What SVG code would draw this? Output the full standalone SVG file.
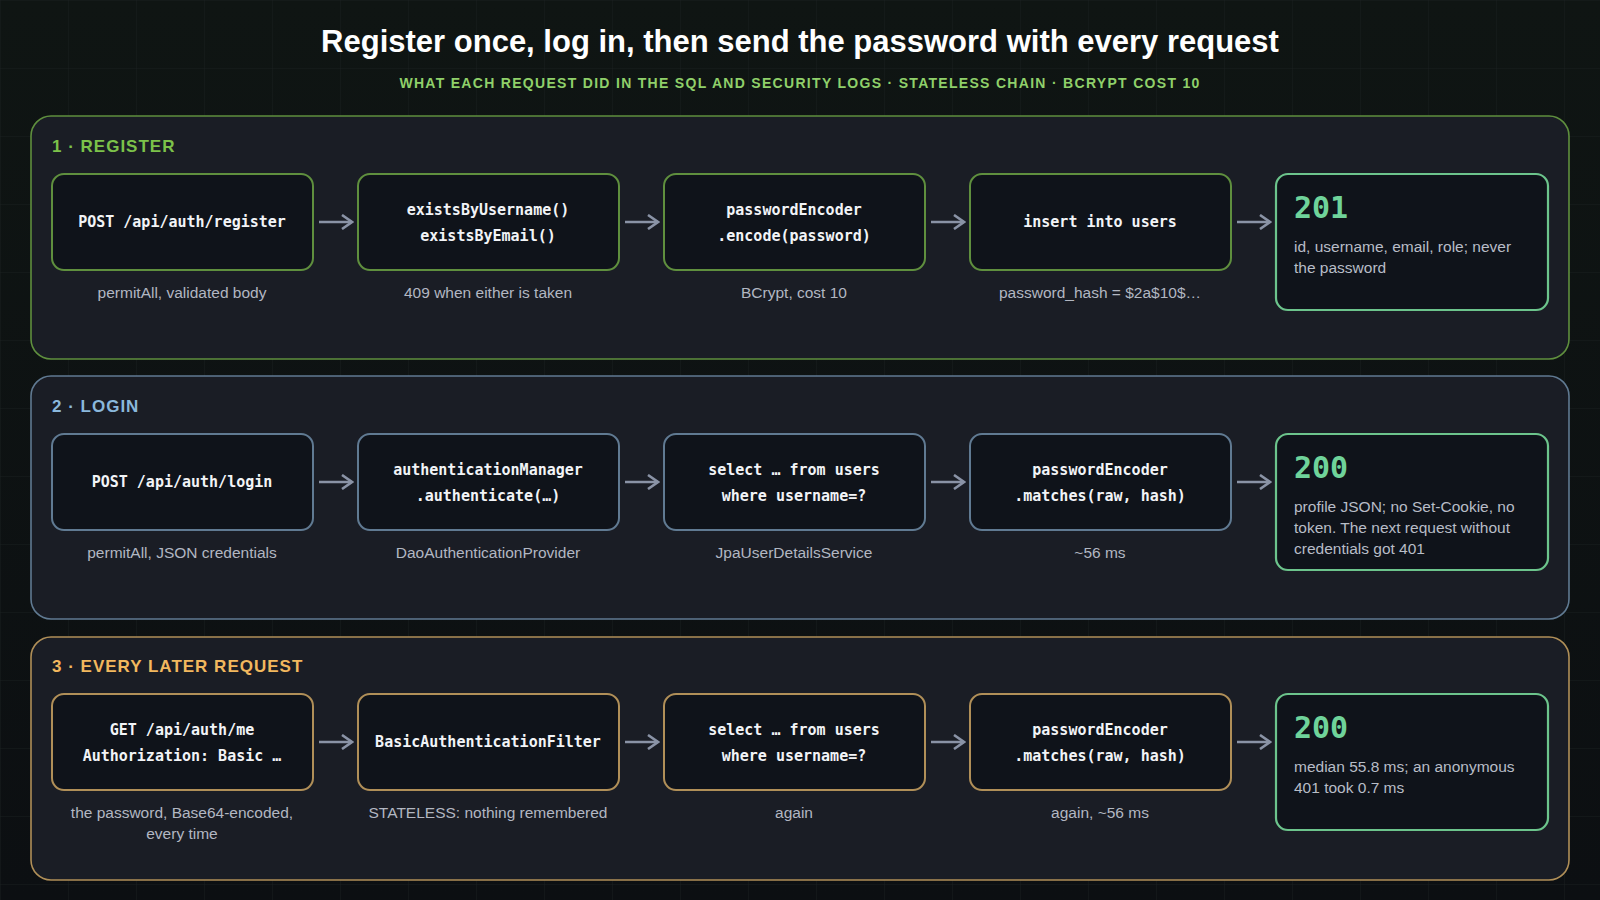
<svg xmlns="http://www.w3.org/2000/svg" width="1600" height="900" viewBox="0 0 1600 900">
<defs>
<pattern id="grid" width="68" height="68" patternUnits="userSpaceOnUse"><path d="M68 0H0V68" fill="none" stroke="#1a2020" stroke-width="1"/></pattern>
<marker id="ah" viewBox="0 0 16 16" refX="14" refY="8" markerWidth="16" markerHeight="16" markerUnits="userSpaceOnUse" orient="auto"><path d="M4 1L14 8L4 15" fill="none" stroke="#8a93a6" stroke-width="2.6"/></marker>
<linearGradient id="bg" x1="0" y1="0" x2="0" y2="1"><stop offset="0" stop-color="#0f1513"/><stop offset="1" stop-color="#0c0f12"/></linearGradient>
</defs>
<style>
.t{font-family:"Liberation Sans",Arial,sans-serif;fill:#fff;font-weight:bold;font-size:31px}
.st{font-family:"Liberation Sans",Arial,sans-serif;fill:#8fd06a;font-weight:bold;font-size:14px;letter-spacing:1.3px}
.panel{fill:#1a1d25;stroke-width:1.6}
.sl{font-family:"Liberation Sans",Arial,sans-serif;font-weight:bold;font-size:17px;letter-spacing:1px}
.node{fill:#0f131a;stroke-width:2}
.code{font-family:"DejaVu Sans Mono",monospace;font-weight:bold;font-size:15px;fill:#f2f4f7;text-anchor:middle}
.cap{font-family:"Liberation Sans",Arial,sans-serif;font-size:15.5px;fill:#b2b7c2;text-anchor:middle}
.res{fill:#0f131a;stroke:#6cc48c;stroke-width:2.2}
.num{font-family:"DejaVu Sans Mono",monospace;font-weight:bold;font-size:30px;fill:#6fd39a}
.rt{font-family:"Liberation Sans",Arial,sans-serif;font-size:15.5px;fill:#b8bdc7}
.g{stroke:#5f8f3e}.b{stroke:#607a92}.o{stroke:#b08f58}
.conn line{stroke:#8a93a6;stroke-width:2.6}
</style>
<rect width="1600" height="900" fill="url(#bg)"/>
<rect width="1600" height="900" fill="url(#grid)"/>
<text class="t" x="800" y="52" text-anchor="middle">Register once, log in, then send the password with every request</text>
<text class="st" x="800" y="88" text-anchor="middle">WHAT EACH REQUEST DID IN THE SQL AND SECURITY LOGS · STATELESS CHAIN · BCRYPT COST 10</text>

<g id="panel1"><rect class="panel g" x="31" y="116" width="1538" height="243" rx="20"/><text class="sl" x="52" y="152" fill="#7cc24a">1 · REGISTER</text></g>
<g id="panel2"><rect class="panel b" x="31" y="376" width="1538" height="243" rx="20"/><text class="sl" x="52" y="412" fill="#8ab8dc">2 · LOGIN</text></g>
<g id="panel3"><rect class="panel o" x="31" y="637" width="1538" height="243" rx="20"/><text class="sl" x="52" y="672" fill="#f2b85e">3 · EVERY LATER REQUEST</text></g>

<g id="r1n1"><rect class="node g" x="52" y="174" width="261" height="96" rx="12"/><text class="code" x="182" y="227">POST /api/auth/register</text><text class="cap" x="182" y="298">permitAll, validated body</text></g>
<g id="r1n2"><rect class="node g" x="358" y="174" width="261" height="96" rx="12"/><text class="code" x="488" y="215">existsByUsername()</text><text class="code" x="488" y="241">existsByEmail()</text><text class="cap" x="488" y="298">409 when either is taken</text></g>
<g id="r1n3"><rect class="node g" x="664" y="174" width="261" height="96" rx="12"/><text class="code" x="794" y="215">passwordEncoder</text><text class="code" x="794" y="241">.encode(password)</text><text class="cap" x="794" y="298">BCrypt, cost 10</text></g>
<g id="r1n4"><rect class="node g" x="970" y="174" width="261" height="96" rx="12"/><text class="code" x="1100" y="227">insert into users</text><text class="cap" x="1100" y="298">password_hash = $2a$10$…</text></g>
<g id="r1res"><rect class="res" x="1276" y="174" width="272" height="136" rx="12"/><text class="num" x="1294" y="218">201</text><text class="rt" x="1294" y="252">id, username, email, role; never</text><text class="rt" x="1294" y="273">the password</text></g>

<g id="r2n1"><rect class="node b" x="52" y="434" width="261" height="96" rx="12"/><text class="code" x="182" y="487">POST /api/auth/login</text><text class="cap" x="182" y="558">permitAll, JSON credentials</text></g>
<g id="r2n2"><rect class="node b" x="358" y="434" width="261" height="96" rx="12"/><text class="code" x="488" y="475">authenticationManager</text><text class="code" x="488" y="501">.authenticate(…)</text><text class="cap" x="488" y="558">DaoAuthenticationProvider</text></g>
<g id="r2n3"><rect class="node b" x="664" y="434" width="261" height="96" rx="12"/><text class="code" x="794" y="475">select … from users</text><text class="code" x="794" y="501">where username=?</text><text class="cap" x="794" y="558">JpaUserDetailsService</text></g>
<g id="r2n4"><rect class="node b" x="970" y="434" width="261" height="96" rx="12"/><text class="code" x="1100" y="475">passwordEncoder</text><text class="code" x="1100" y="501">.matches(raw, hash)</text><text class="cap" x="1100" y="558">~56 ms</text></g>
<g id="r2res"><rect class="res" x="1276" y="434" width="272" height="136" rx="12"/><text class="num" x="1294" y="478">200</text><text class="rt" x="1294" y="512">profile JSON; no Set-Cookie, no</text><text class="rt" x="1294" y="533">token. The next request without</text><text class="rt" x="1294" y="554">credentials got 401</text></g>

<g id="r3n1"><rect class="node o" x="52" y="694" width="261" height="96" rx="12"/><text class="code" x="182" y="735">GET /api/auth/me</text><text class="code" x="182" y="761">Authorization: Basic …</text><text class="cap" x="182" y="818">the password, Base64-encoded,</text><text class="cap" x="182" y="839">every time</text></g>
<g id="r3n2"><rect class="node o" x="358" y="694" width="261" height="96" rx="12"/><text class="code" x="488" y="747">BasicAuthenticationFilter</text><text class="cap" x="488" y="818">STATELESS: nothing remembered</text></g>
<g id="r3n3"><rect class="node o" x="664" y="694" width="261" height="96" rx="12"/><text class="code" x="794" y="735">select … from users</text><text class="code" x="794" y="761">where username=?</text><text class="cap" x="794" y="818">again</text></g>
<g id="r3n4"><rect class="node o" x="970" y="694" width="261" height="96" rx="12"/><text class="code" x="1100" y="735">passwordEncoder</text><text class="code" x="1100" y="761">.matches(raw, hash)</text><text class="cap" x="1100" y="818">again, ~56 ms</text></g>
<g id="r3res"><rect class="res" x="1276" y="694" width="272" height="136" rx="12"/><text class="num" x="1294" y="738">200</text><text class="rt" x="1294" y="772">median 55.8 ms; an anonymous</text><text class="rt" x="1294" y="793">401 took 0.7 ms</text></g>

<g id="connectors" class="conn">
<line x1="319" y1="222" x2="352" y2="222" marker-end="url(#ah)"/>
<line x1="625" y1="222" x2="658" y2="222" marker-end="url(#ah)"/>
<line x1="931" y1="222" x2="964" y2="222" marker-end="url(#ah)"/>
<line x1="1237" y1="222" x2="1270" y2="222" marker-end="url(#ah)"/>
<line x1="319" y1="482" x2="352" y2="482" marker-end="url(#ah)"/>
<line x1="625" y1="482" x2="658" y2="482" marker-end="url(#ah)"/>
<line x1="931" y1="482" x2="964" y2="482" marker-end="url(#ah)"/>
<line x1="1237" y1="482" x2="1270" y2="482" marker-end="url(#ah)"/>
<line x1="319" y1="742" x2="352" y2="742" marker-end="url(#ah)"/>
<line x1="625" y1="742" x2="658" y2="742" marker-end="url(#ah)"/>
<line x1="931" y1="742" x2="964" y2="742" marker-end="url(#ah)"/>
<line x1="1237" y1="742" x2="1270" y2="742" marker-end="url(#ah)"/>
</g>
</svg>
